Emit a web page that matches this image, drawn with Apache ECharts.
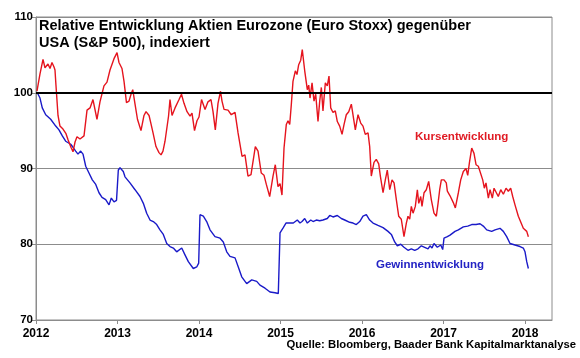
<!DOCTYPE html>
<html>
<head>
<meta charset="utf-8">
<script src="https://cdn.jsdelivr.net/npm/echarts@6/dist/echarts.min.js"></script>
<style>html,body{margin:0;padding:0;background:#fff}#c{width:580px;height:358px}</style>
</head>
<body>
<div id="c"></div>
<script>
// x values are decimal years
var kursDates = [2012.012,2012.049,2012.086,2012.110,2012.147,2012.172,2012.196,2012.221,2012.233,2012.245,2012.270,2012.294,2012.331,2012.368,2012.393,2012.429,2012.454,2012.479,2012.503,2012.540,2012.589,2012.626,2012.663,2012.699,2012.748,2012.785,2012.834,2012.871,2012.908,2012.957,2012.994,2013.018,2013.055,2013.080,2013.110,2013.141,2013.166,2013.187,2013.215,2013.245,2013.288,2013.325,2013.350,2013.387,2013.411,2013.436,2013.472,2013.509,2013.534,2013.558,2013.583,2013.626,2013.644,2013.669,2013.706,2013.755,2013.785,2013.816,2013.853,2013.890,2013.914,2013.945,2013.975,2014.000,2014.031,2014.074,2014.110,2014.147,2014.172,2014.200,2014.233,2014.264,2014.282,2014.307,2014.356,2014.396,2014.442,2014.479,2014.528,2014.564,2014.601,2014.638,2014.691,2014.724,2014.764,2014.798,2014.826,2014.867,2014.908,2014.936,2014.969,2014.994,2015.018,2015.043,2015.071,2015.092,2015.113,2015.133,2015.153,2015.182,2015.202,2015.223,2015.248,2015.267,2015.297,2015.329,2015.346,2015.362,2015.387,2015.411,2015.432,2015.460,2015.481,2015.501,2015.521,2015.550,2015.574,2015.595,2015.616,2015.644,2015.672,2015.697,2015.726,2015.755,2015.779,2015.807,2015.837,2015.869,2015.893,2015.918,2015.951,2015.984,2016.012,2016.040,2016.074,2016.094,2016.114,2016.147,2016.175,2016.205,2016.225,2016.258,2016.286,2016.310,2016.340,2016.368,2016.393,2016.421,2016.450,2016.482,2016.515,2016.544,2016.564,2016.585,2016.605,2016.626,2016.654,2016.679,2016.696,2016.720,2016.736,2016.761,2016.789,2016.818,2016.850,2016.883,2016.912,2016.933,2016.953,2016.973,2017.006,2017.034,2017.047,2017.080,2017.120,2017.145,2017.182,2017.211,2017.243,2017.276,2017.297,2017.317,2017.346,2017.374,2017.399,2017.427,2017.448,2017.481,2017.501,2017.521,2017.550,2017.571,2017.599,2017.620,2017.644,2017.672,2017.702,2017.734,2017.767,2017.795,2017.824,2017.849,2017.877,2017.898,2017.918,2017.939,2017.960,2017.979,2018.000,2018.021,2018.041];
var kursValues = [100.2,102.5,104.4,103.3,103.8,103.2,104.0,103.4,103.0,101.0,97.0,95.6,95.2,94.6,93.8,92.8,92.2,93.5,94.2,93.9,94.3,97.7,98.0,99.1,96.5,98.8,100.9,101.4,103.0,104.5,105.3,104.0,103.2,101.5,98.7,98.9,99.8,100.4,98.5,96.5,95.0,97.0,97.5,97.0,95.9,94.7,92.9,92.1,91.8,92.3,93.6,96.9,99.1,97.0,98.0,99.1,99.8,98.6,97.5,96.9,97.3,95.0,96.3,96.8,99.1,97.8,98.8,99.1,97.5,95.1,98.6,100.2,98.9,97.8,97.7,97.1,97.4,94.7,91.6,91.8,89.0,89.2,92.9,92.3,89.4,89.1,87.9,86.3,89.0,90.5,87.6,88.0,86.5,92.7,95.8,96.3,95.8,98.5,101.5,102.9,102.4,103.7,104.3,105.7,102.9,100.4,101.0,99.3,101.3,98.9,99.8,96.2,98.9,100.7,97.6,101.3,100.9,102.2,98.0,97.4,97.6,96.2,95.6,94.5,95.8,97.1,97.5,98.5,98.7,95.1,97.1,96.0,95.6,94.5,94.7,92.9,89.0,90.8,91.2,90.6,89.0,86.8,88.5,89.8,87.2,88.5,88.1,85.9,83.7,83.3,81.0,82.8,83.7,83.3,85.0,84.1,85.0,87.2,85.4,86.3,85.0,86.8,87.2,88.3,85.9,84.1,83.7,85.4,87.2,88.5,88.5,88.1,87.0,86.4,85.5,84.8,86.8,88.5,89.6,90.0,89.1,90.7,92.7,92.0,90.5,90.3,90.1,88.5,87.4,88.1,86.1,87.2,86.1,87.4,87.2,86.3,87.2,86.6,87.4,87.0,87.4,86.3,85.2,85.0,83.7,83.9,82.6,82.1,82.3,81.7,81.0];

var gewinnDates = [2012.016,2012.049,2012.077,2012.119,2012.180,2012.242,2012.282,2012.323,2012.364,2012.426,2012.454,2012.487,2012.515,2012.548,2012.577,2012.610,2012.650,2012.691,2012.733,2012.773,2012.810,2012.855,2012.896,2012.924,2012.957,2012.988,2013.010,2013.031,2013.071,2013.092,2013.153,2013.215,2013.276,2013.317,2013.358,2013.399,2013.439,2013.481,2013.521,2013.562,2013.604,2013.644,2013.685,2013.726,2013.788,2013.828,2013.869,2013.930,2013.972,2013.996,2014.012,2014.053,2014.094,2014.135,2014.196,2014.258,2014.298,2014.340,2014.380,2014.442,2014.482,2014.524,2014.585,2014.647,2014.708,2014.748,2014.810,2014.871,2014.933,2014.973,2014.994,2015.034,2015.067,2015.157,2015.206,2015.239,2015.264,2015.297,2015.329,2015.371,2015.399,2015.439,2015.481,2015.521,2015.574,2015.604,2015.644,2015.697,2015.746,2015.788,2015.849,2015.890,2015.930,2015.972,2016.012,2016.053,2016.094,2016.135,2016.196,2016.258,2016.319,2016.360,2016.401,2016.433,2016.475,2016.515,2016.564,2016.605,2016.647,2016.687,2016.728,2016.769,2016.810,2016.834,2016.859,2016.883,2016.924,2016.966,2016.990,2017.006,2017.047,2017.080,2017.141,2017.182,2017.243,2017.297,2017.346,2017.399,2017.448,2017.488,2017.530,2017.591,2017.632,2017.693,2017.734,2017.775,2017.816,2017.877,2017.939,2017.979,2018.000,2018.021,2018.041];
var gewinnValues = [100.0,99.3,98.0,97.1,96.5,95.6,95.1,94.3,93.6,93.2,92.8,92.3,91.9,92.3,91.9,90.3,89.4,88.5,87.9,86.8,86.2,85.9,85.2,86.1,85.6,85.8,89.8,90.1,89.6,88.9,88.1,87.2,86.3,85.4,84.1,83.2,83.0,82.6,81.9,81.3,80.1,79.7,79.5,79.0,79.5,78.6,77.7,76.8,77.0,77.5,83.9,83.7,83.0,81.9,81.0,80.8,80.3,79.0,78.4,78.2,77.0,75.7,74.8,75.3,75.1,74.6,74.2,73.7,73.6,73.5,81.5,82.2,82.8,82.8,83.2,82.8,83.0,83.4,82.8,83.2,83.0,83.2,83.1,83.2,83.4,83.8,83.6,83.8,83.4,83.2,82.9,82.8,82.6,83.0,83.7,83.9,83.2,82.8,82.5,82.2,81.7,81.3,80.3,79.8,80.0,79.6,79.2,79.4,79.2,79.4,79.8,79.6,79.4,79.8,79.5,80.1,79.6,79.9,79.3,80.8,81.0,81.2,81.7,81.9,82.3,82.4,82.6,82.6,82.7,82.4,81.9,81.7,81.9,82.1,81.7,81.0,80.1,79.9,79.7,79.5,79.0,77.7,76.8];

var yearTicks = [2012,2013,2014,2015,2016,2017,2018];
var titleText = 'Relative Entwicklung Aktien Eurozone (Euro Stoxx) gegenüber\nUSA (S&P 500), indexiert';
var kursName = 'Kursentwicklung';
var gewinnName = 'Gewinnentwicklung';
var sourceText = 'Quelle: Bloomberg, Baader Bank Kapitalmarktanalyse';

function zip(a, b) { return a.map(function (v, i) { return [v, b[i]]; }); }

var FONT = '"Liberation Sans", Arial, sans-serif';
var chart = echarts.init(document.getElementById('c'), null, {renderer: 'canvas'});
chart.setOption({
  animation: false,
  backgroundColor: '#fff',
  grid: {left: 36, top: 17, width: 516, height: 303, show: true, borderColor: '#8c8c8c', borderWidth: 1, backgroundColor: 'transparent'},
  title: {
    text: titleText, left: 39, top: 17, padding: 0,
    textStyle: {fontFamily: FONT, fontSize: 14.5, fontWeight: 'bold', color: '#000', lineHeight: 17}
  },
  xAxis: {
    type: 'value', min: 2012, max: 2018.331,
    axisLine: {show: true, lineStyle: {color: '#8c8c8c', width: 1}},
    axisTick: {show: true, length: 4, customValues: yearTicks, lineStyle: {color: '#8c8c8c'}},
    axisLabel: {customValues: yearTicks, fontFamily: FONT, fontSize: 12, fontWeight: 'bold', color: '#000', margin: 8,
      formatter: function (v) { return String(Math.round(v)); }},
    splitLine: {show: false}
  },
  yAxis: {
    type: 'value', min: 70, max: 110, interval: 10,
    axisLine: {show: true, lineStyle: {color: '#8c8c8c', width: 1}},
    axisTick: {show: true, length: 4, lineStyle: {color: '#8c8c8c'}},
    axisLabel: {fontFamily: FONT, fontSize: 11.5, fontWeight: 'bold', color: '#000', margin: 3},
    splitLine: {show: true, lineStyle: {color: '#8c8c8c', width: 1}}
  },
  series: [
    {
      type: 'line', name: gewinnName, data: zip(gewinnDates, gewinnValues),
      showSymbol: false, symbol: 'none', lineStyle: {color: '#1a1ac8', width: 1.4}, z: 3,
      markLine: {silent: true, symbol: 'none', label: {show: false},
        lineStyle: {color: '#000', width: 2, type: 'solid'}, data: [{yAxis: 100}]}
    },
    {
      type: 'line', name: kursName, data: zip(kursDates, kursValues),
      showSymbol: false, symbol: 'none', lineStyle: {color: '#e5141e', width: 1.4}, z: 4
    }
  ],
  graphic: [
    {type: 'text', left: 415, top: 131, style: {text: kursName, fill: '#e01b24', font: 'bold 11.6px ' + FONT}},
    {type: 'text', left: 376, top: 259, style: {text: gewinnName, fill: '#2323c4', font: 'bold 11.5px ' + FONT}},
    {type: 'text', right: 4, top: 339, style: {text: sourceText, fill: '#000', font: 'bold 11.3px ' + FONT}}
  ]
});
</script>
</body>
</html>
